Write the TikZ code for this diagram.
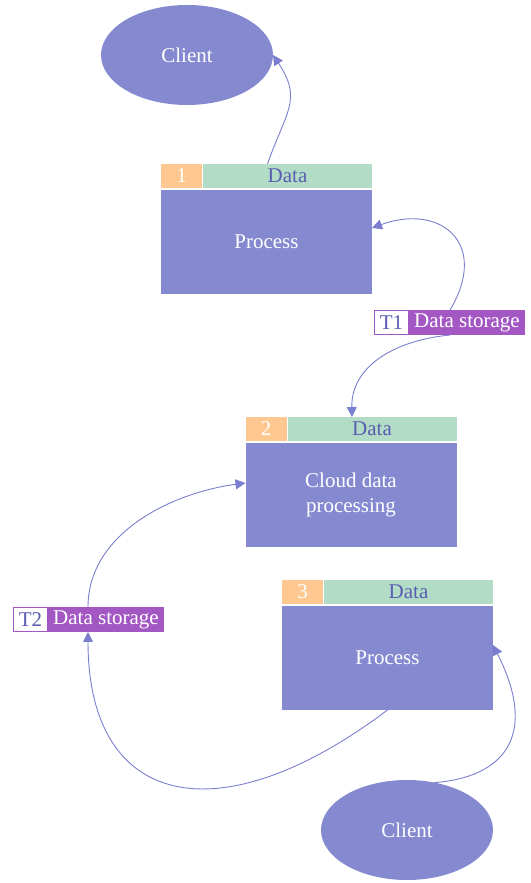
\documentclass[tikz,border=0pt]{standalone}
\usepackage{fontspec}
\setmainfont{Liberation Serif}
\usetikzlibrary{shapes.geometric,arrows.meta}

\definecolor{boxblue}{HTML}{8589CF}
\definecolor{numorange}{HTML}{FFC891}
\definecolor{datagreen}{HTML}{B3DCC6}
\definecolor{storepurple}{HTML}{A357C3}
\definecolor{linkblue}{HTML}{7A7ECE}
\definecolor{labelblue}{HTML}{5A5DB0}

\tikzset{
  txt/.style={font=\fontsize{21}{25.5}\selectfont, inner sep=0pt, outer sep=0pt},
  mainbox/.style={txt, fill=boxblue, text=white, minimum width=211pt,
    minimum height=104pt, align=center},
  numcell/.style={txt, fill=numorange, text=white, minimum width=41pt,
    minimum height=24pt},
  datacell/.style={txt, fill=datagreen, text=labelblue, minimum width=169pt,
    minimum height=24pt},
  client/.style={txt, ellipse, fill=boxblue, text=white, minimum width=172pt,
    minimum height=100pt},
  tagbox/.style={txt, draw=storepurple, line width=1pt, fill=white,
    text=labelblue, minimum width=34pt, minimum height=24pt},
  storebox/.style={txt, fill=storepurple, text=white, minimum width=116pt,
    minimum height=25pt},
  link/.style={draw=linkblue, line width=0.9pt,
    -{Triangle[length=10pt, width=10pt]}}
}

\begin{document}
\begin{tikzpicture}[x=1pt, y=1pt]
  \useasboundingbox (0,0) rectangle (530,883);

  % top client
  \node[client] (c1) at (187,828) {Client};

  % process 1
  \node[mainbox] (b1) at (266.5,641) {Process};
  \node[numcell, anchor=south west] (n1) at ([yshift=2pt]b1.north west) {1};
  \node[datacell, anchor=south east] (d1) at ([yshift=2pt]b1.north east) {Data};

  % storage T1
  \node[storebox] (t1l) at (467,560.5) {Data storage};
  \node[tagbox, anchor=east] (t1n) at ([xshift=-0.5pt]t1l.west) {T1};

  % cloud processing
  \node[mainbox] (b2) at (351,388) {Cloud data\\processing};
  \node[numcell, anchor=south west] (n2) at ([yshift=2pt]b2.north west) {2};
  \node[datacell, anchor=south east] (d2) at ([yshift=2pt]b2.north east) {Data};

  % storage T2
  \node[storebox] (t2l) at (106,263.5) {Data storage};
  \node[tagbox, anchor=east] (t2n) at ([xshift=-0.5pt]t2l.west) {T2};

  % process 3
  \node[mainbox] (b3) at (387.5,225) {Process};
  \node[numcell, anchor=south west] (n3) at ([yshift=2pt]b3.north west) {3};
  \node[datacell, anchor=south east] (d3) at ([yshift=2pt]b3.north east) {Data};

  % bottom client
  \node[client] (c2) at (407,53) {Client};

  % connectors
  \draw[link] ([xshift=-20pt]d1.north) .. controls +(18,52) and +(30,-45) .. (c1.east);
  \draw[link] ([xshift=-17pt]t1l.north) .. controls +(40,67) and +(68,25) .. ([yshift=14pt]b1.east);
  \draw[link] ([xshift=-17pt]t1l.south) .. controls +(-60,-6) and +(-1,48) .. ([xshift=-20pt]d2.north);
  \draw[link] ([xshift=-18pt]t2l.north) .. controls +(0,73) and +(-75,-10) .. ([yshift=12pt]b2.west);
  \draw[link] (b3.south) .. controls +(-170,-128) and +(0,-175) .. ([xshift=-18pt]t2l.south);
  \draw[link] (c2.60) .. controls +(67,5) and +(47,-93) .. ([yshift=13pt]b3.east);
\end{tikzpicture}
\end{document}
